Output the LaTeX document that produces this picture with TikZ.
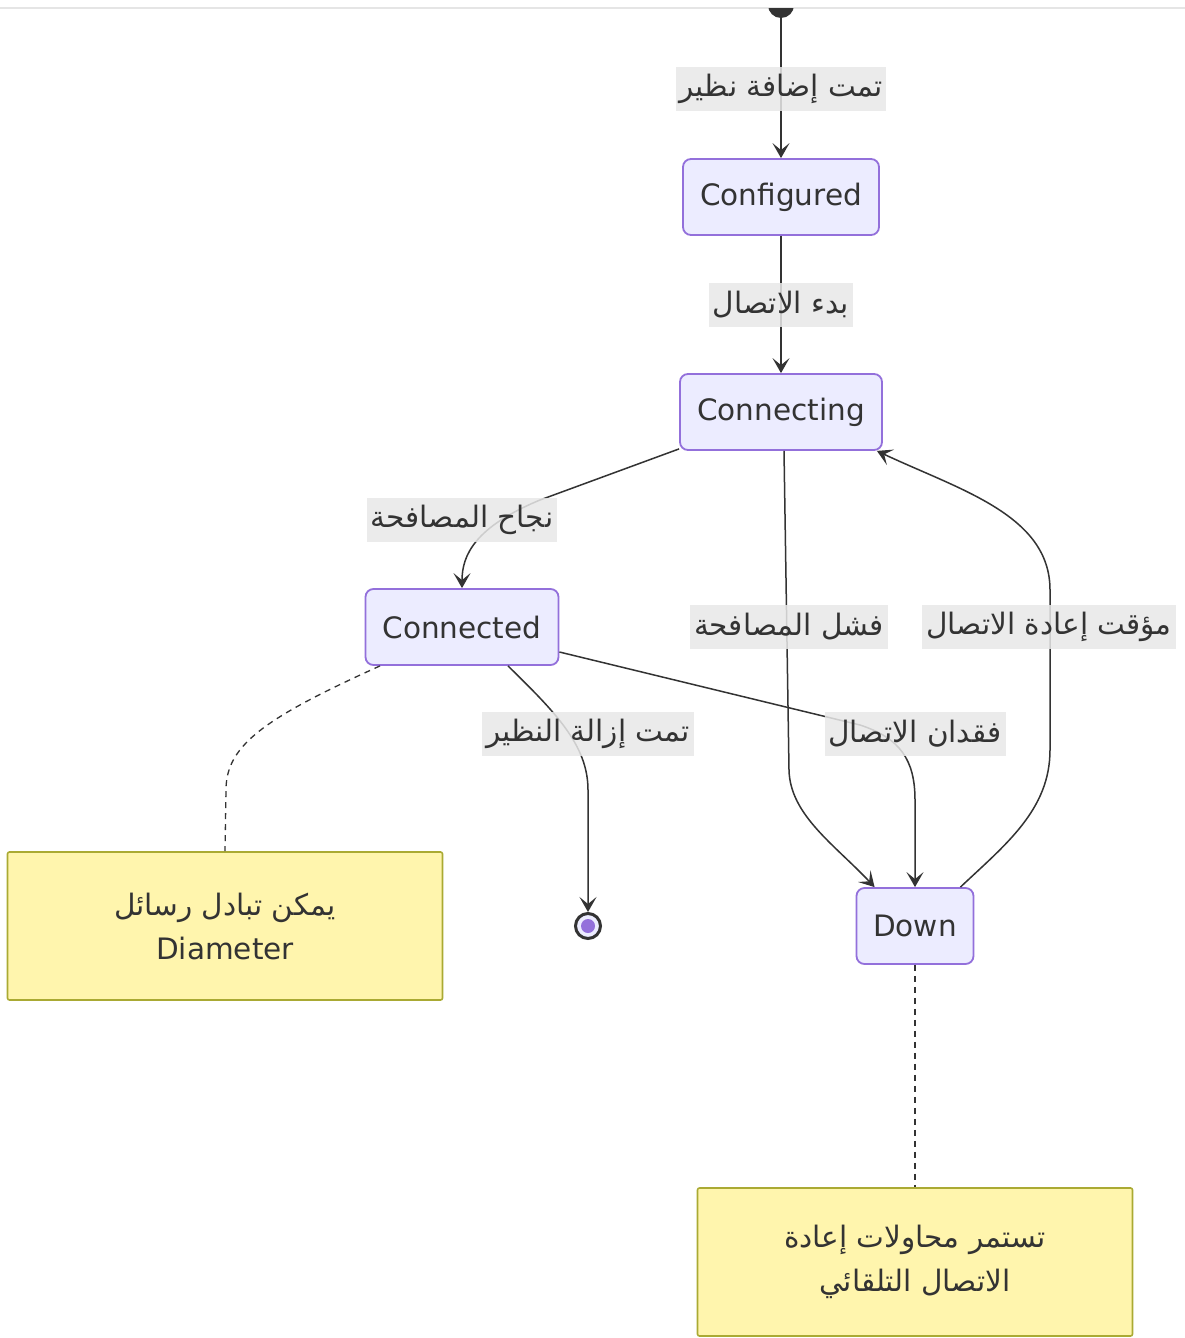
\documentclass[tikz,border=0pt]{standalone}
\usepackage{fontspec}
\setmainfont{DejaVu Sans}
\newfontfamily\arabicfont[Script=Arabic]{DejaVu Sans}
\TeXXeTstate=1
\usetikzlibrary{arrows.meta}
\definecolor{stfill}{HTML}{ECECFF}
\definecolor{stline}{HTML}{9370DB}
\definecolor{notefill}{HTML}{FFF5AD}
\definecolor{noteline}{HTML}{AAAA33}
\definecolor{ink}{HTML}{333333}
\definecolor{lblbg}{HTML}{E8E8E8}
\newcommand{\ar}[1]{{\arabicfont\beginR #1\endR}}
\tikzset{
  x=1pt,y=-1pt,
  every node/.style={font=\fontsize{29.5}{44}\selectfont, text=ink},
  state/.style={draw=stline, fill=stfill, line width=1.8pt, rounded corners=8pt, minimum height=76pt, inner sep=0pt},
  notebox/.style={draw=noteline, fill=notefill, line width=1.6pt, rounded corners=2pt, minimum width=435pt, minimum height=148pt, align=center, inner sep=0pt},
  lbl/.style={fill=lblbg, fill opacity=0.85, text opacity=1, minimum height=44pt, inner xsep=4pt, inner ysep=0pt},
  edge/.style={draw=ink, line width=1.5pt, -{Stealth[length=15pt,width=17pt,inset=7pt]}},
  notelink/.style={draw=ink, line width=1.3pt, dash pattern=on 6pt off 5pt},
}
\begin{document}
\begin{tikzpicture}
\useasboundingbox (0,0) rectangle (1185,1338);
\fill[white] (0,0) rectangle (1185,1338);
% top border line
\draw[color=black!10, line width=2pt] (0,8) -- (1185,8);
% start state (cut at the top)
\begin{scope}
\clip (0,9) rectangle (1185,60);
\fill[ink] (781,5) circle (13);
\end{scope}
\coordinate (start) at (781,18);

% states
\node[state, minimum width=196pt] (cfg) at (781,197) {Configured};
\node[state, minimum width=202pt] (cing) at (781,412) {Connecting};
\node[state, minimum width=193pt] (ced) at (462,627) {Connected};
\node[state, minimum width=117pt] (down) at (915,926) {Down};
% end state
\node[circle, draw=ink, line width=3pt, fill=stfill, minimum size=25pt, inner sep=0pt] (end) at (588,926) {};
\fill[stline] (end.center) circle (7);

% notes
\node[notebox] (n1) at (225,926) {\ar{يمكن تبادل رسائل}\\Diameter};
\node[notebox] (n2) at (915,1262) {\ar{تستمر محاولات إعادة}\\\ar{الاتصال التلقائي}};

% edges
\draw[edge] (start) -- (cfg.north);
\draw[edge] (cfg.south) -- (cing.north);
\draw[edge] ([xshift=0pt,yshift=2pt]cing.south west) -- (540,500) .. controls (475,527) and (462,555) .. (ced.north);
\draw[edge] ([xshift=3pt]cing.south) -- (789,770) .. controls (790,815) and (835,845) .. ([xshift=19pt]down.north west);
\draw[edge] ([xshift=-14pt]down.north east) .. controls (1005,845) and (1050,810) .. (1050,750) -- (1050,590) .. controls (1050,515) and (960,490) .. ([xshift=-6pt]cing.south east);
\draw[edge] ([yshift=-25pt]ced.east) -- (860,725) .. controls (900,738) and (915,760) .. (915,800) -- (down.north);
\draw[edge] ([xshift=46pt]ced.south) .. controls (555,712) and (588,745) .. (588,790) -- (end.north);

% note links
\draw[notelink] ([xshift=-82pt]ced.south) .. controls (265,718) and (226,745) .. (226,790) -- (n1.north);
\draw[notelink] (down.south) -- (n2.north);

% labels
\node[lbl] (l1) at (781,89) {\ar{تمت إضافة نظير}};
\node[lbl] (l2) at (781,305) {\ar{بدء الاتصال}};
\node[lbl] (l3) at (462,520) {\ar{نجاح المصافحة}};
\node[lbl] (l4) at (789,627) {\ar{فشل المصافحة}};
\node[lbl] (l5) at (1049,627) {\ar{مؤقت إعادة الاتصال}};
\node[lbl] (l6) at (588,734) {\ar{تمت إزالة النظير}};
\node[lbl] (l7) at (915,734) {\ar{فقدان الاتصال}};
\end{tikzpicture}
\end{document}
